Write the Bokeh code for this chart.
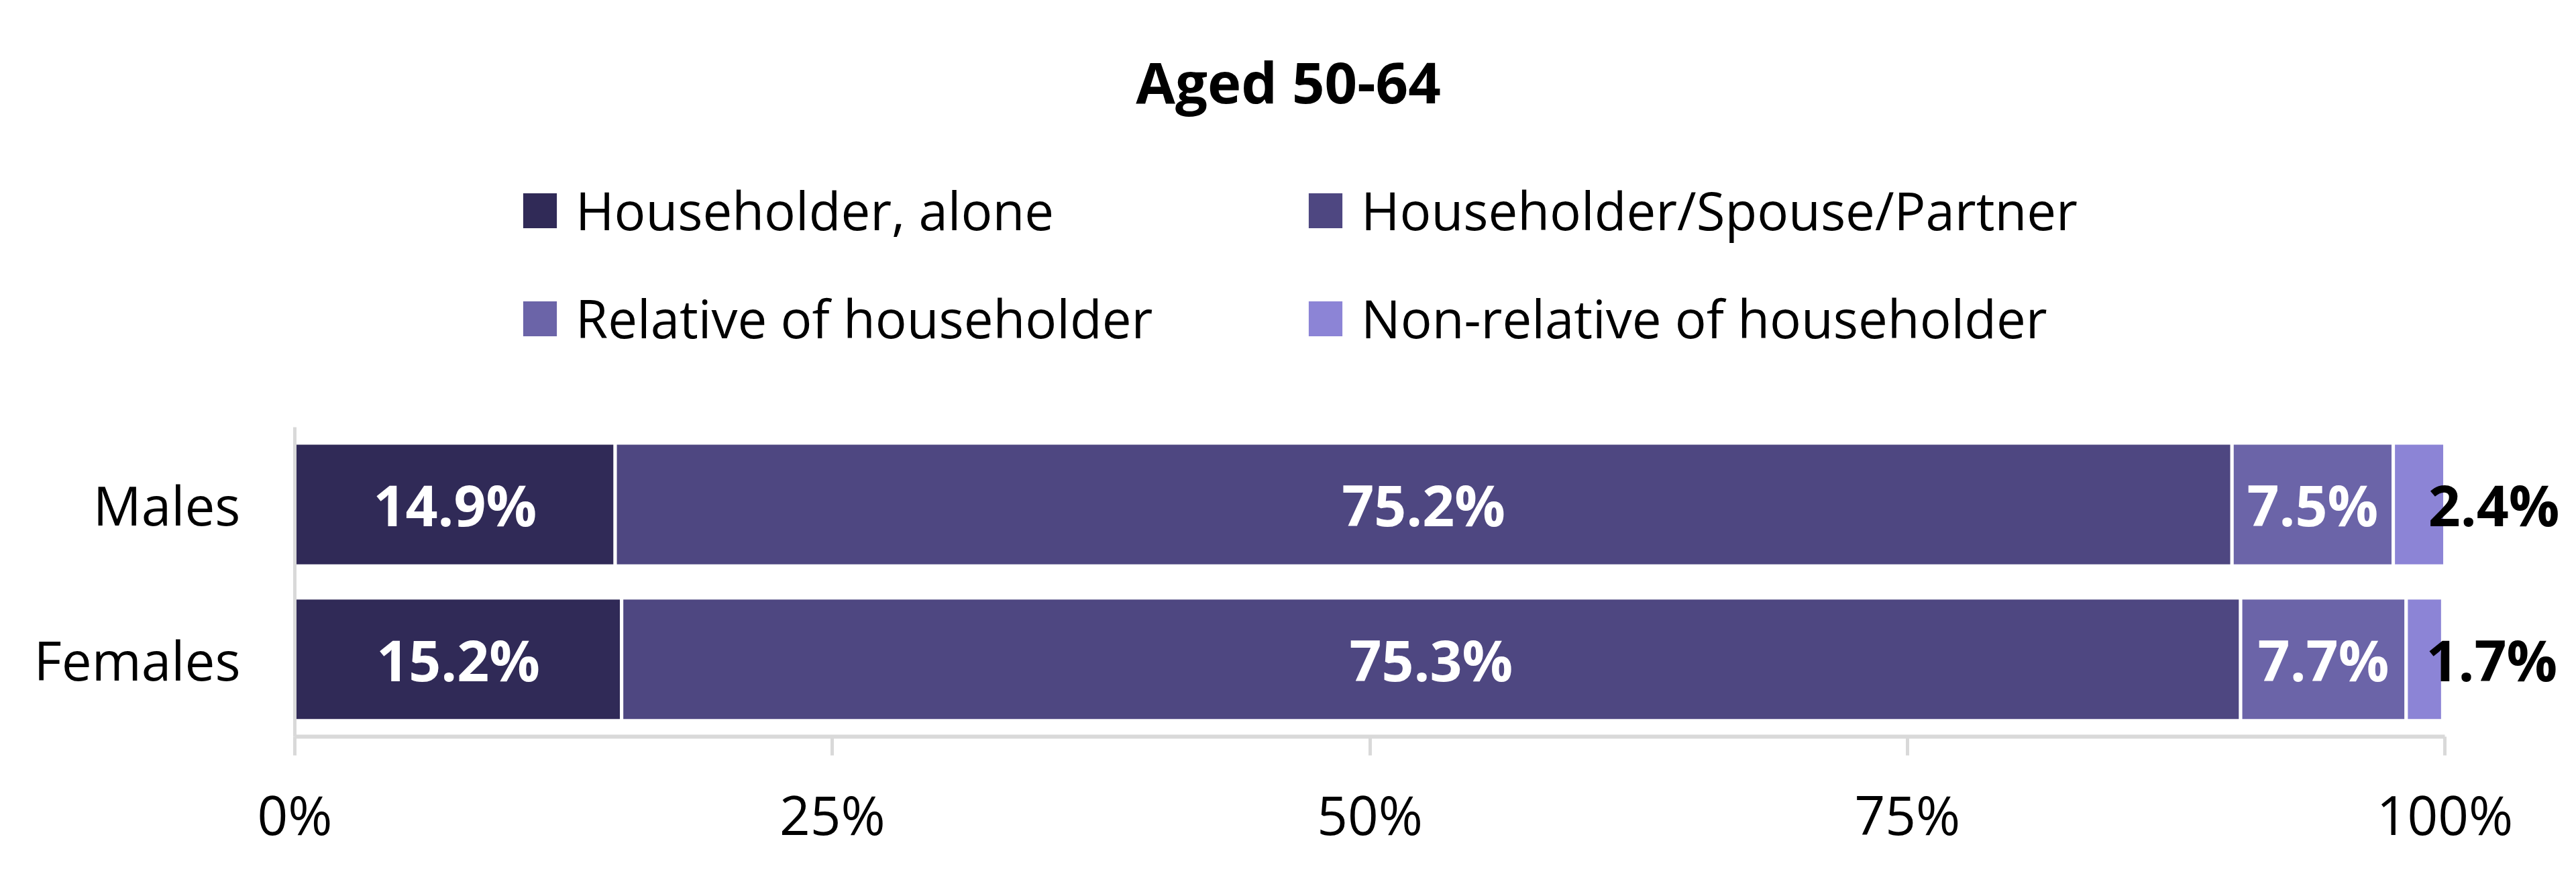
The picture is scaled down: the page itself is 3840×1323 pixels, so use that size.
import numpy as np
from bokeh.plotting import figure
from bokeh.models import ColumnDataSource, Range1d, Legend, LegendItem, FixedTicker, Label
from bokeh.core.properties import value
from bokeh.embed import file_html
from bokeh.resources import INLINE

# dados
titulo = "Aged 50-64"
grupos = ["Males", "Females"]
series = ["Householder, alone", "Householder/Spouse/Partner",
          "Relative of householder", "Non-relative of householder"]
sozinho = [14.9, 15.2]
conjuge = [75.2, 75.3]
parente = [7.5, 7.7]
nao_parente = [2.4, 1.7]
cores = ["#302a57", "#4e4781", "#6b64a8", "#8c84d6"]
ticks_x = [0, 25, 50, 75, 100]
rotulos_x = ["0%", "25%", "50%", "75%", "100%"]

colunas = ["sozinho", "conjuge", "parente", "nao_parente"]
valores = [sozinho, conjuge, parente, nao_parente]
# posicao de cada grupo no eixo y (primeiro grupo em cima)
pos_y = [len(grupos) - i - 0.5 for i in range(len(grupos))]
fonte = ColumnDataSource(dict(y=pos_y, **{c: v for c, v in zip(colunas, valores)}))

p = figure(x_range=Range1d(0, 105.49), y_range=Range1d(0, 4.7592), width=3824, height=1307,
           output_backend="svg", toolbar_location=None)
p.min_border_left = 439
p.min_border_right = 4
p.min_border_top = 0
p.min_border_bottom = 210
p.outline_line_color = None
p.xgrid.visible = False
p.ygrid.visible = False

barras = p.hbar_stack(colunas, y="y", height=0.795, color=cores, source=fonte,
                      line_color="white", line_width=5)

# rotulos das barras
acumulado = np.cumsum(valores, axis=0)
for i, v in enumerate(valores):
    v = np.array(v)
    textos = ["%.1f%%" % x for x in v]
    if i < 3:
        p.text(x=acumulado[i] - v / 2, y=pos_y, text=textos, text_color="white",
               text_font=value("Open Sans"), text_font_style="bold", text_font_size="84px",
               text_align="center", text_baseline="middle")
    else:
        p.text(x=acumulado[i], y=pos_y, text=textos, text_color="black",
               text_font=value("Open Sans"), text_font_style="bold", text_font_size="84px",
               text_align="center", text_baseline="middle", x_offset=73)

# eixos
p.xaxis.bounds = (0, 100)
p.xaxis.ticker = FixedTicker(ticks=ticks_x)
p.xaxis.major_label_overrides = {t: r for t, r in zip(ticks_x, rotulos_x)}
p.xaxis.major_label_text_font = "Open Sans"
p.xaxis.major_label_text_font_size = "80px"
p.xaxis.major_label_text_color = "black"
p.xaxis.major_label_standoff = 32
p.xaxis.axis_line_color = "#d9d9d9"
p.xaxis.axis_line_width = 6
p.xaxis.major_tick_line_color = "#d9d9d9"
p.xaxis.major_tick_line_width = 5
p.xaxis.major_tick_in = 0
p.xaxis.major_tick_out = 28
p.xaxis.minor_tick_line_color = None

p.yaxis.bounds = (0, len(grupos))
p.yaxis.ticker = FixedTicker(ticks=pos_y)
p.yaxis.major_label_overrides = {y: g for y, g in zip(pos_y, grupos)}
p.yaxis.major_label_text_font = "Open Sans"
p.yaxis.major_label_text_font_size = "80px"
p.yaxis.major_label_text_color = "black"
p.yaxis.major_label_standoff = 75
p.yaxis.axis_line_color = "#d9d9d9"
p.yaxis.axis_line_width = 5
p.yaxis.major_tick_line_color = None
p.yaxis.minor_tick_line_color = None

# legenda
legenda = Legend(items=[LegendItem(label=s, renderers=[r]) for s, r in zip(series, barras)],
                 orientation="horizontal", ncols=2, location=(331, 570), margin=0, padding=0,
                 spacing=55, glyph_width=69, glyph_height=71, label_width=1028, label_height=100,
                 label_standoff=19, label_text_font="Open Sans", label_text_font_size="78px",
                 label_text_color="black", border_line_color=None, background_fill_color=None)
p.add_layout(legenda)

p.add_layout(Label(x=1481, y=977, x_units="screen", y_units="screen", text=titulo,
                   text_font="Open Sans", text_font_style="bold", text_font_size="85px",
                   text_color="black", text_align="center", text_baseline="middle"))

open("out.html", "w").write(file_html(p, INLINE))
